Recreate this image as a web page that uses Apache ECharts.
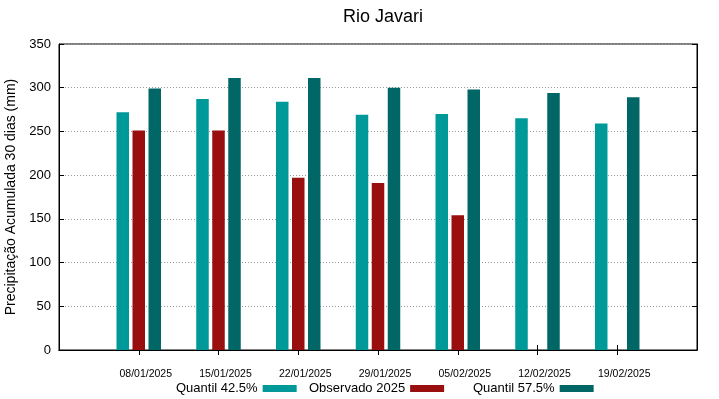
<!DOCTYPE html>
<html>
<head>
<meta charset="utf-8">
<script src="https://cdn.jsdelivr.net/npm/echarts@6/dist/echarts.min.js"></script>
<style>
  html, body { margin: 0; padding: 0; background: #fff; }
  #chart { width: 719px; height: 399px; }
</style>
</head>
<body>
<div id="chart"></div>
<script>
// blank slot on each side so the weeks sit at 1..7 of 0..8, like the gnuplot original
var dates = ['', '08/01/2025', '15/01/2025', '22/01/2025', '29/01/2025', '05/02/2025', '12/02/2025', '19/02/2025', ''];
var quantil425 = ['-', 272, 287, 284, 269, 270, 265, 259, '-'];
var observado2025 = ['-', 251, 251, 197, 191, 154, '-', '-', '-'];
var quantil575 = ['-', 299, 311, 311, 300, 298, 294, 289, '-'];
var yTicks = { min: 0, max: 350, interval: 50 };

var font = 'Liberation Sans, Arial, sans-serif';
var chart = echarts.init(document.getElementById('chart'), null, { renderer: 'canvas' });

// no ticks on the two blank slots at the frame edges
function innerOnly(i) {
  return i > 0 && i < dates.length - 1
}

function legendAt(left, name) {
  return {
    data: [name],
    left: left,
    top: 377,
    align: 'right',
    itemWidth: 34,
    itemHeight: 7,
    icon: 'rect',
    selectedMode: false,
    textStyle: { fontFamily: font, fontSize: 13, color: '#000' }
  }
}

function bar(name, data, color) {
  return {
    name: name,
    type: 'bar',
    data: data,
    barWidth: 12.5,
    barGap: '28%',
    itemStyle: { color: color },
    animation: false
  }
}

chart.setOption({
  backgroundColor: '#fff',
  title: {
    text: 'Rio Javari',
    left: 378,
    textAlign: 'center',
    top: 3,
    textStyle: { fontFamily: font, fontSize: 18, fontWeight: 'normal', color: '#000' }
  },
  legend: [
    legendAt(171, 'Quantil 42.5%'),
    legendAt(304, 'Observado 2025'),
    legendAt(468, 'Quantil 57.5%')
  ],
  grid: {
    left: 59,
    right: 22,
    top: 44,
    bottom: 49,
    outerBoundsMode: 'none',
    containLabel: false,
    show: true,
    borderColor: '#000',
    borderWidth: 1
  },
  xAxis: [{
    type: 'category',
    data: dates,
    boundaryGap: false,
    axisLine: { lineStyle: { color: '#000' } },
    axisTick: { inside: true, length: 5, interval: innerOnly, lineStyle: { color: '#000' } },
    axisLabel: {
      interval: 0,
      margin: 19,
      padding: [0, 0, 0, 14],
      fontFamily: font,
      fontSize: 10.5,
      color: '#000'
    },
    splitLine: { show: false }
  }, {
    type: 'category',
    data: dates,
    position: 'top',
    boundaryGap: false,
    axisLine: { lineStyle: { color: '#000' } },
    axisTick: { inside: true, length: 5, interval: innerOnly, lineStyle: { color: '#000' } },
    axisLabel: { show: false },
    splitLine: { show: false }
  }],
  yAxis: [{
    type: 'value',
    min: yTicks.min,
    max: yTicks.max,
    interval: yTicks.interval,
    name: 'Precipitação Acumulada 30 dias (mm)',
    nameLocation: 'middle',
    nameGap: 38,
    nameTextStyle: { fontFamily: font, fontSize: 14, color: '#000' },
    axisLine: { show: true, lineStyle: { color: '#000' } },
    axisTick: { show: true, inside: true, length: 5, lineStyle: { color: '#000' } },
    axisLabel: { margin: 8, fontFamily: font, fontSize: 13, color: '#000' },
    splitLine: { show: true, lineStyle: { color: '#999', type: [1, 2], width: 1 } }
  }, {
    type: 'value',
    position: 'right',
    min: yTicks.min,
    max: yTicks.max,
    interval: yTicks.interval,
    axisLine: { show: true, lineStyle: { color: '#000' } },
    axisTick: { show: true, inside: true, length: 5, lineStyle: { color: '#000' } },
    axisLabel: { show: false },
    splitLine: { show: false }
  }],
  series: [
    bar('Quantil 42.5%', quantil425, '#009999'),
    bar('Observado 2025', observado2025, '#990e0e'),
    bar('Quantil 57.5%', quantil575, '#006666')
  ]
});
</script>
</body>
</html>
